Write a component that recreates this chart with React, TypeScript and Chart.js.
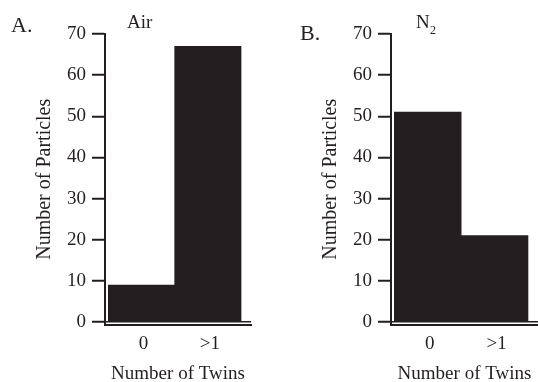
import React, { useEffect, useRef } from "react";
import { Chart, registerables } from "chart.js";

Chart.register(...registerables);

// ---- data ----
const categories = ["0", ">1"];
const airCounts = [9, 67];
const n2Counts = [51, 21];
const yTickValues = [0, 10, 20, 30, 40, 50, 60, 70];
const yTitle = "Number of Particles";
const xTitle = "Number of Twins";

const INK = "#231f20";
const FONT = '"Liberation Serif", "Times New Roman", serif';

type Label = { text: string; x: number; y: number; size: number };

function makeConfig(values: number[], labels: Label[], padLeft: number, padRight: number): any {
  const labelPlugin = {
    id: "panelLabels",
    afterDraw(chart: any) {
      const ctx = chart.ctx;
      ctx.save();
      ctx.fillStyle = INK;
      ctx.textBaseline = "alphabetic";
      ctx.textAlign = "left";
      for (const l of labels) {
        ctx.font = `${l.size}px ${FONT}`;
        ctx.fillText(l.text, l.x, l.y);
      }
      ctx.restore();
    },
  };
  return {
    type: "bar",
    data: {
      datasets: [
        {
          data: values.map((y, i) => ({ x: i, y })),
          backgroundColor: INK,
          borderWidth: 0,
          barPercentage: 1,
          categoryPercentage: 1,
        },
      ],
    },
    options: {
      responsive: false,
      animation: false,
      devicePixelRatio: 1,
      layout: { padding: { top: 34, left: padLeft, right: padRight, bottom: 0 } },
      plugins: { legend: { display: false }, tooltip: { enabled: false } },
      scales: {
        x: {
          type: "linear",
          offset: false,
          min: -0.55,
          max: 1.65,
          afterBuildTicks: (s: any) => {
            s.ticks = categories.map((_, i) => ({ value: i }));
          },
          afterFit: (s: any) => {
            s.height = 57.5;
          },
          ticks: {
            callback: (v: any) => categories[Math.round(Number(v))],
            font: { family: FONT, size: 19 },
            color: INK,
            padding: 0,
            labelOffset: 2,
            autoSkip: false,
            maxRotation: 0,
          },
          grid: { display: false, offset: false },
          border: { display: true, color: INK, width: 2 },
          title: {
            display: true,
            text: xTitle,
            color: INK,
            font: { family: FONT, size: 19, lineHeight: 0.8 },
            padding: { top: 0, bottom: 0 },
          },
        },
        y: {
          type: "linear",
          min: -0.6,
          max: 70,
          afterBuildTicks: (s: any) => {
            s.ticks = yTickValues.map((v) => ({ value: v }));
          },
          afterFit: (s: any) => {
            s.width = 105;
          },
          ticks: {
            font: { family: FONT, size: 19 },
            color: INK,
            padding: 6,
          },
          grid: {
            drawOnChartArea: true,
            color: (c: any) => (c.tick && c.tick.value === 0 ? INK : "rgba(0,0,0,0)"),
            lineWidth: 1.5,
            tickColor: INK,
            tickLength: 13,
            tickWidth: 2,
          },
          border: { display: true, color: INK, width: 2 },
          title: {
            display: true,
            text: yTitle,
            color: INK,
            font: { family: FONT, size: 20, lineHeight: 1.2 },
            padding: { top: 32.5, bottom: 0 },
          },
        },
      },
    },
    plugins: [labelPlugin],
  };
}

export default function App() {
  const refA = useRef<HTMLCanvasElement | null>(null);
  const refB = useRef<HTMLCanvasElement | null>(null);

  useEffect(() => {
    const a = new Chart(
      refA.current as HTMLCanvasElement,
      makeConfig(
        airCounts,
        [
          { text: "A.", x: 11, y: 32, size: 22 },
          { text: "Air", x: 127, y: 28, size: 19 },
        ],
        0,
        18
      )
    );
    const b = new Chart(
      refB.current as HTMLCanvasElement,
      makeConfig(
        n2Counts,
        [
          { text: "B.", x: 31, y: 40, size: 22 },
          { text: "N", x: 147, y: 28, size: 19 },
          { text: "2", x: 161, y: 34, size: 12 },
        ],
        17,
        0
      )
    );
    return () => {
      a.destroy();
      b.destroy();
    };
  }, []);

  return (
    <div style={{ position: "absolute", left: 0, top: 0, width: 538, height: 382, background: "#fff" }}>
      <canvas ref={refA} width={269} height={382} style={{ position: "absolute", left: 0, top: 0 }} />
      <canvas ref={refB} width={269} height={382} style={{ position: "absolute", left: 269, top: 0 }} />
    </div>
  );
}
